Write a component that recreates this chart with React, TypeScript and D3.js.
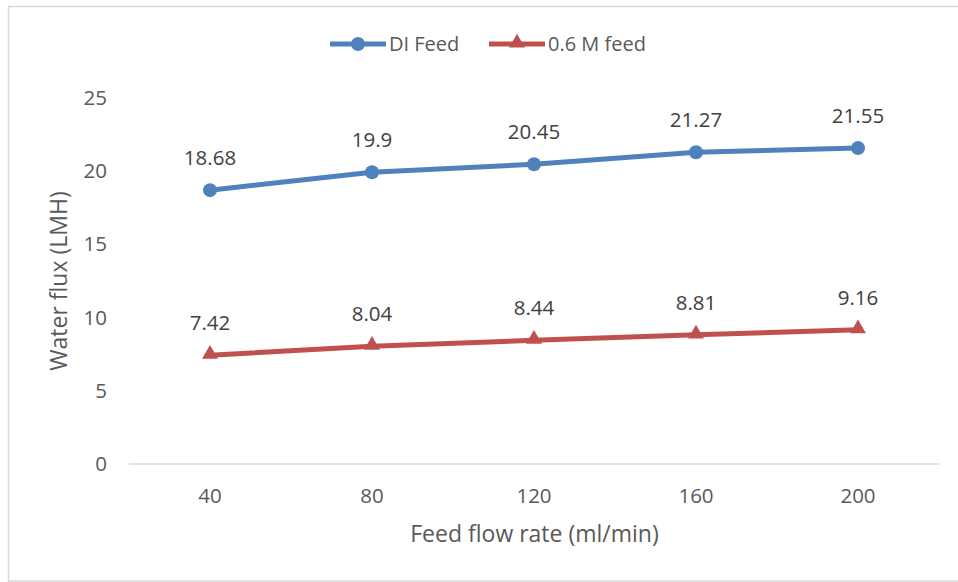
import React from "react";
import * as d3 from "d3";

const categories = ["40", "80", "120", "160", "200"];
const diFeed = [18.68, 19.9, 20.45, 21.27, 21.55];
const saltFeed = [7.42, 8.04, 8.44, 8.81, 9.16];
const yTicks = [0, 5, 10, 15, 20, 25];
const seriesNames = ["DI Feed", "0.6 M feed"];

const W = 958;
const H = 582;
const FONT = "'Open Sans', 'Noto Sans', sans-serif";
const BLUE = "#4f81bd";
const RED = "#c0504d";

export default function App() {
  const x = d3.scaleBand<string>().domain(categories).range([129, 939]);
  const y = d3.scaleLinear().domain([0, 25]).range([464, 97.5]);
  const cx = (c: string) => (x(c) as number) + x.bandwidth() / 2;
  const line = d3
    .line<number>()
    .x((_, i) => cx(categories[i]))
    .y((d) => y(d));
  const tri = d3.symbol().type(d3.symbolTriangle).size(110)();
  const triLegend = d3.symbol().type(d3.symbolTriangle).size(110)();

  return (
    <svg
      width={W}
      height={H}
      style={{ position: "fixed", left: 0, top: 0, background: "#fff" }}
      fontFamily={FONT}
    >
      <rect x={0} y={0} width={W} height={H} fill="#fff" />
      <rect x={8.5} y={6.5} width={960} height={574.5} fill="#fff" stroke="#d9d9d9" strokeWidth={1.5} />

      {/* axis line */}
      <line x1={129} x2={939} y1={y(0)} y2={y(0)} stroke="#d9d9d9" strokeWidth={1.5} />

      {/* y tick labels */}
      {yTicks.map((t) => (
        <text key={t} x={107} y={y(t)} dy="0.35em" textAnchor="end" fontSize={20.5} fill="#595959">
          {t}
        </text>
      ))}
      {/* x tick labels */}
      {categories.map((c) => (
        <text key={c} x={cx(c)} y={503} textAnchor="middle" fontSize={20.5} fill="#595959">
          {c}
        </text>
      ))}

      {/* axis titles */}
      <text x={534.5} y={542} textAnchor="middle" fontSize={23} fill="#595959">
        Feed flow rate (ml/min)
      </text>
      <text
        transform={`translate(67,281) rotate(-90)`}
        textAnchor="middle"
        fontSize={23}
        fill="#595959"
      >
        Water flux (LMH)
      </text>

      {/* DI series */}
      <path d={line(diFeed) || ""} fill="none" stroke={BLUE} strokeWidth={5} strokeLinejoin="round" />
      {diFeed.map((v, i) => (
        <circle key={i} cx={cx(categories[i])} cy={y(v)} r={7} fill={BLUE} />
      ))}
      {diFeed.map((v, i) => (
        <text key={i} x={cx(categories[i])} y={y(v) - 25} textAnchor="middle" fontSize={20.5} fill="#404040">
          {v}
        </text>
      ))}

      {/* 0.6 M series */}
      <path d={line(saltFeed) || ""} fill="none" stroke={RED} strokeWidth={5} strokeLinejoin="round" />
      {saltFeed.map((v, i) => (
        <path key={i} d={tri || ""} transform={`translate(${cx(categories[i])},${y(v) - 1})`} fill={RED} />
      ))}
      {saltFeed.map((v, i) => (
        <text key={i} x={cx(categories[i])} y={y(v) - 25} textAnchor="middle" fontSize={20.5} fill="#404040">
          {v}
        </text>
      ))}

      {/* legend */}
      <line x1={330} x2={386} y1={44} y2={44} stroke={BLUE} strokeWidth={5} />
      <circle cx={358} cy={44} r={7} fill={BLUE} />
      <text x={389} y={51} fontSize={20} fill="#595959">
        {seriesNames[0]}
      </text>
      <line x1={489} x2={545} y1={44} y2={44} stroke={RED} strokeWidth={5} />
      <path d={triLegend || ""} transform="translate(517,43)" fill={RED} />
      <text x={548} y={51} fontSize={20} fill="#595959">
        {seriesNames[1]}
      </text>
    </svg>
  );
}
